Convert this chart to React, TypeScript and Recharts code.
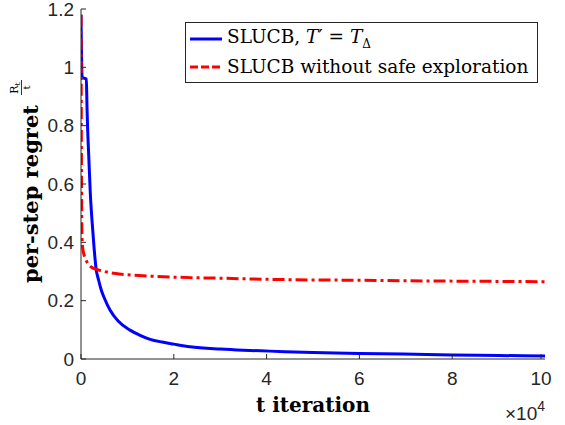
import { LineChart, Line, XAxis, YAxis, Legend } from 'recharts';

// iterations (t) and per-step regret
const safeT = [0, 250, 1150, 1300, 1450, 1660, 2000, 2370, 2800, 3230, 3800, 4400, 5000, 6250, 8000, 10560, 12500, 14900, 17500, 20000, 23500, 30000, 35000, 40700, 50000, 60000, 69400, 80000, 90000, 100000];
const safeRegret = [1.18, 0.965, 0.96, 0.86, 0.78, 0.7, 0.57, 0.475, 0.385, 0.312, 0.27, 0.235, 0.21, 0.168, 0.13, 0.099, 0.083, 0.0675, 0.058, 0.051, 0.042, 0.034, 0.03, 0.027, 0.022, 0.019, 0.017, 0.014, 0.012, 0.01];

const unsafeT = [0, 80, 200, 430, 1080, 2150, 3230, 5000, 7500, 10000, 15000, 23500, 30000, 40700, 50000, 60000, 70000, 80000, 90000, 100000];
const unsafeRegret = [1.18, 0.75, 0.42, 0.374, 0.34, 0.316, 0.308, 0.3, 0.293, 0.289, 0.284, 0.279, 0.277, 0.273, 0.271, 0.27, 0.268, 0.267, 0.266, 0.265];

const xTicks = [0, 20000, 40000, 60000, 80000, 100000];
const yTicks = [0, 0.2, 0.4, 0.6, 0.8, 1, 1.2];

const safeData = safeT.map((t, i) => ({ t, r: safeRegret[i] }));
const unsafeData = unsafeT.map((t, i) => ({ t, r: unsafeRegret[i] }));

const AXIS = '#262626';
const SANS = '"Liberation Sans", Arial, sans-serif';
const SERIF = '"DejaVu Serif", serif';
const TICK_LEN = 5;

const fmtY = (v: number) => String(Number(v.toFixed(1)));
const fmtX = (v: number) => String(v / 10000);

function LeftTick({ x, y, payload }: any) {
  const ax = x + 7;
  return (
    <g>
      <line x1={ax} x2={ax + TICK_LEN} y1={y} y2={y} stroke={AXIS} />
      <text x={x} y={y} dy="0.355em" textAnchor="end" fontFamily={SANS} fontSize={19} fill={AXIS}>
        {fmtY(payload.value)}
      </text>
    </g>
  );
}

function BottomTick({ x, y, payload }: any) {
  const ay = y - 13;
  return (
    <g>
      <line x1={x} x2={x} y1={ay} y2={ay - TICK_LEN} stroke={AXIS} />
      <text x={x} y={y} dy="0.71em" textAnchor="middle" fontFamily={SANS} fontSize={19} fill={AXIS}>
        {fmtX(payload.value)}
      </text>
    </g>
  );
}

function TopTick({ x, y }: any) {
  return <line x1={x} x2={x} y1={y} y2={y + TICK_LEN} stroke={AXIS} />;
}

function RightTick({ x, y }: any) {
  return <line x1={x} x2={x - TICK_LEN} y1={y} y2={y} stroke={AXIS} />;
}

function XLabel({ viewBox }: any) {
  const { x, y, width } = viewBox;
  return (
    <g>
      <text x={x + width / 2} y={y + 53} textAnchor="middle" fontFamily={SERIF} fontWeight="bold" fontSize={20} fill="#000">
        t iteration
      </text>
      <text x={x + width} y={y + 61} textAnchor="end" fontFamily={SANS} fontSize={19} fill={AXIS}>
        ×10<tspan dy={-9} fontSize={14}>4</tspan>
      </text>
    </g>
  );
}

function YLabel({ viewBox }: any) {
  const bx = viewBox.x + 38;
  const by = viewBox.y + viewBox.height - 76;
  return (
    <g transform={`translate(${bx},${by}) rotate(-90)`}>
      <text x={0} y={0} fontFamily={SERIF} fontWeight="bold" fontSize={21} fill="#000" textLength={178} lengthAdjust="spacingAndGlyphs">
        per-step regret
      </text>
      <text x={195} y={-20} textAnchor="middle" fontFamily={SERIF} fontSize={11} fill="#000">
        R<tspan fontSize={8} dy={2}>t</tspan>
      </text>
      <line x1={188} x2={203} y1={-16.5} y2={-16.5} stroke="#000" strokeWidth={0.8} />
      <text x={195.5} y={-8} textAnchor="middle" fontFamily={SERIF} fontSize={10} fill="#000">
        t
      </text>
    </g>
  );
}

const series = [
  { key: 'safe', data: safeData, color: '#0000ff', dash: undefined, legendDash: undefined },
  { key: 'unsafe', data: unsafeData, color: '#ff0000', dash: '12 4 3 4', legendDash: '8 3' },
];

function LegendBox() {
  return (
    <div
      style={{
        width: 351,
        height: 57,
        paddingTop: 2,
        border: `1px solid ${AXIS}`,
        background: '#fff',
        fontFamily: SERIF,
        fontSize: 18.5,
        color: '#000',
        lineHeight: 1,
      }}
    >
      {series.map((s, i) => (
        <div key={s.key} style={{ display: 'flex', alignItems: 'center', height: 28 }}>
          <svg width={32} height={10} style={{ marginLeft: 4, marginRight: 5 }}>
            <line x1={0} x2={32} y1={5} y2={5} stroke={s.color} strokeWidth={3} strokeDasharray={s.legendDash} />
          </svg>
          {i === 0 ? (
            <span>
              SLUCB, <i>T</i>′ = <i>T</i>
              <sub style={{ fontSize: 12 }}>Δ</sub>
            </span>
          ) : (
            <span>SLUCB without safe exploration</span>
          )}
        </div>
      ))}
    </div>
  );
}

export default function App() {
  return (
    <div style={{ position: 'absolute', left: 0, top: 0, background: '#fff' }}>
      <LineChart width={565} height={425} margin={{ top: 9, right: 20, bottom: 0, left: 0 }}>
        <XAxis
          dataKey="t"
          type="number"
          domain={[0, 100000]}
          ticks={xTicks}
          allowDataOverflow
          height={66}
          stroke={AXIS}
          tickSize={0}
          tickMargin={13}
          tick={BottomTick}
          label={XLabel}
        />
        <XAxis
          xAxisId="top"
          orientation="top"
          type="number"
          domain={[0, 100000]}
          ticks={xTicks}
          allowDataOverflow
          height={0}
          stroke={AXIS}
          tickSize={0}
          tickMargin={0}
          tick={TopTick}
        />
        <YAxis
          type="number"
          domain={[0, 1.2]}
          ticks={yTicks}
          allowDataOverflow
          width={81}
          stroke={AXIS}
          tickSize={0}
          tickMargin={7}
          tick={LeftTick}
          label={YLabel}
        />
        <YAxis
          yAxisId="right"
          orientation="right"
          type="number"
          domain={[0, 1.2]}
          ticks={yTicks}
          allowDataOverflow
          width={0}
          stroke={AXIS}
          tickSize={0}
          tickMargin={0}
          tick={RightTick}
        />
        <Legend
          layout="horizontal"
          verticalAlign="middle"
          align="center"
          wrapperStyle={{ left: 185, top: 22, width: 'auto', height: 'auto' }}
          content={LegendBox}
        />
        {series.map((s) => (
          <Line
            key={s.key}
            data={s.data}
            dataKey="r"
            type="monotone"
            stroke={s.color}
            strokeWidth={3}
            strokeDasharray={s.dash}
            dot={false}
            activeDot={false}
            isAnimationActive={false}
          />
        ))}
      </LineChart>
    </div>
  );
}
